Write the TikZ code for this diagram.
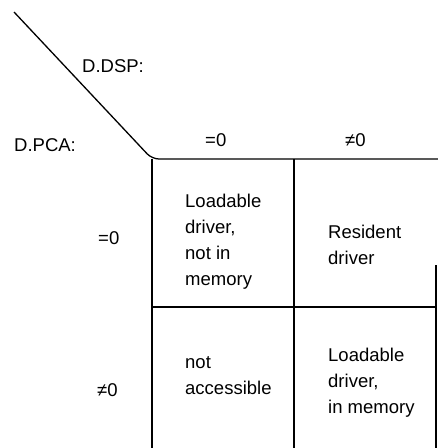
\documentclass[tikz,border=0pt]{standalone}
\usepackage{fontspec}
\setmainfont{Liberation Sans}
\begin{document}
\begin{tikzpicture}[x=1pt,y=-1pt,
  lbl/.style={inner sep=0pt, font=\fontsize{18.5}{26}\selectfont},
  cell/.style={lbl, align=left, anchor=west},
  rule/.style={line width=1.3pt}]
\useasboundingbox (0,0) rectangle (438,448);
% grid coordinates
\coordinate (dtop) at (14,12);
\coordinate (corner) at (152,159);
\coordinate (hr) at (438,159);
\coordinate (vb) at (152,448);
\coordinate (mtop) at (294,159);
\coordinate (mbot) at (294,448);
\coordinate (rl) at (152,307);
\coordinate (rr) at (436,307);
\coordinate (rtop) at (436,265);
\coordinate (rbot) at (436,448);
% lines
\draw[rule, rounded corners=7pt] (dtop) -- (corner) -- (hr);
\draw[rule] (corner) -- (vb);
\draw[rule] (mtop) -- (mbot);
\draw[rule] (rl) -- (rr);
\draw[rule] (rtop) -- (rbot);
% headers
\node[lbl, anchor=west] (dsp) at (82,66) {D.DSP:};
\node[lbl, anchor=west] (pca) at (14,145) {D.PCA:};
\node[lbl, anchor=west] (c1) at (205,140) {=0};
\node[lbl, anchor=west] (c2) at (345,140) {≠0};
\node[lbl, anchor=west] (r1) at (98,238) {=0};
\node[lbl, anchor=west] (r2) at (97,390) {≠0};
% cells
\node[cell] (tl) at (185,242) {Loadable\\driver,\\not in\\memory};
\node[cell] (tr) at (328,245) {Resident\\driver};
\node[cell] (bl) at (185,376) {not\\accessible};
\node[cell] (br) at (328,383) {Loadable\\driver,\\in memory};
\end{tikzpicture}
\end{document}
